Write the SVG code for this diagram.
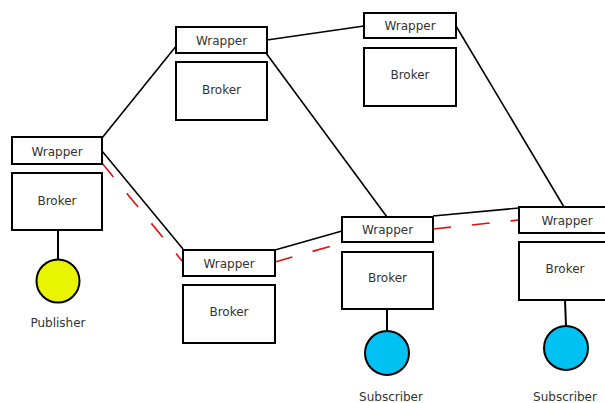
<svg xmlns="http://www.w3.org/2000/svg" width="605" height="403" viewBox="0 0 605 403">
  <style>
    .box { fill: #ffffff; stroke: #000000; stroke-width: 2; }
    .lbl { font-family: "DejaVu Sans", sans-serif; font-size: 12px; fill: #333333; text-anchor: middle; }
    .link { stroke: #000000; stroke-width: 1.6; fill: none; }
    .route { stroke: #dd1111; stroke-width: 1.6; fill: none; stroke-dasharray: 18 21; }
    .stem { stroke: #000000; stroke-width: 2; }
    .pub { fill: #e8f400; stroke: #000000; stroke-width: 2; }
    .sub { fill: #00c2f2; stroke: #000000; stroke-width: 2; }
  </style>
  <rect width="605" height="403" fill="#ffffff"/>

  <!-- connectors between wrappers -->
  <g id="connectors">
    <line class="link" x1="102" y1="138" x2="177" y2="45"/>
    <line class="link" x1="267" y1="40" x2="364" y2="26"/>
    <line class="link" x1="266" y1="53" x2="387" y2="217"/>
    <line class="link" x1="456" y1="26" x2="564" y2="207"/>
    <line class="link" x1="102" y1="151" x2="183" y2="249"/>
    <line class="link" x1="275" y1="250" x2="342" y2="231"/>
    <line class="link" x1="433" y1="216" x2="519" y2="208"/>
    <!-- dashed route publisher to subscribers -->
    <line class="route" x1="102" y1="163" x2="183" y2="262"/>
    <line class="route" x1="275" y1="262" x2="342" y2="243"/>
    <line class="route" x1="433" y1="229" x2="519" y2="220"/>
  </g>

  <g id="node-publisher">
    <rect class="box" x="12" y="137" width="90" height="27"/>
    <text class="lbl" x="57" y="155.5">Wrapper</text>
    <rect class="box" x="12" y="173" width="90" height="57"/>
    <text class="lbl" x="57" y="204.5">Broker</text>
    <line class="stem" x1="58" y1="230" x2="58" y2="259"/>
    <circle class="pub" cx="58" cy="281" r="21.5"/>
    <text class="lbl" x="58" y="327">Publisher</text>
  </g>

  <g id="node-top">
    <rect class="box" x="176" y="27" width="91" height="26"/>
    <text class="lbl" x="221.5" y="45">Wrapper</text>
    <rect class="box" x="176" y="62" width="91" height="58"/>
    <text class="lbl" x="221.5" y="94">Broker</text>
  </g>

  <g id="node-top-right">
    <rect class="box" x="364" y="13" width="92" height="25"/>
    <text class="lbl" x="410" y="30">Wrapper</text>
    <rect class="box" x="364" y="48" width="92" height="58"/>
    <text class="lbl" x="410" y="79">Broker</text>
  </g>

  <g id="node-middle">
    <rect class="box" x="183" y="250" width="92" height="26"/>
    <text class="lbl" x="229" y="267.5">Wrapper</text>
    <rect class="box" x="183" y="285" width="92" height="58"/>
    <text class="lbl" x="229" y="316">Broker</text>
  </g>

  <g id="node-subscriber-1">
    <rect class="box" x="342" y="217" width="91" height="25"/>
    <text class="lbl" x="387.5" y="234">Wrapper</text>
    <rect class="box" x="342" y="252" width="91" height="57"/>
    <text class="lbl" x="387.5" y="282">Broker</text>
    <line class="stem" x1="387" y1="309" x2="387" y2="331"/>
    <circle class="sub" cx="387" cy="353" r="22"/>
    <text class="lbl" x="391" y="401">Subscriber</text>
  </g>

  <g id="node-subscriber-2">
    <rect class="box" x="519" y="207" width="95" height="26"/>
    <text class="lbl" x="567" y="224.5">Wrapper</text>
    <rect class="box" x="519" y="242" width="95" height="58"/>
    <text class="lbl" x="565" y="273">Broker</text>
    <line class="stem" x1="565" y1="300" x2="566" y2="326"/>
    <circle class="sub" cx="566" cy="348" r="22"/>
    <text class="lbl" x="565" y="401">Subscriber</text>
  </g>
</svg>
